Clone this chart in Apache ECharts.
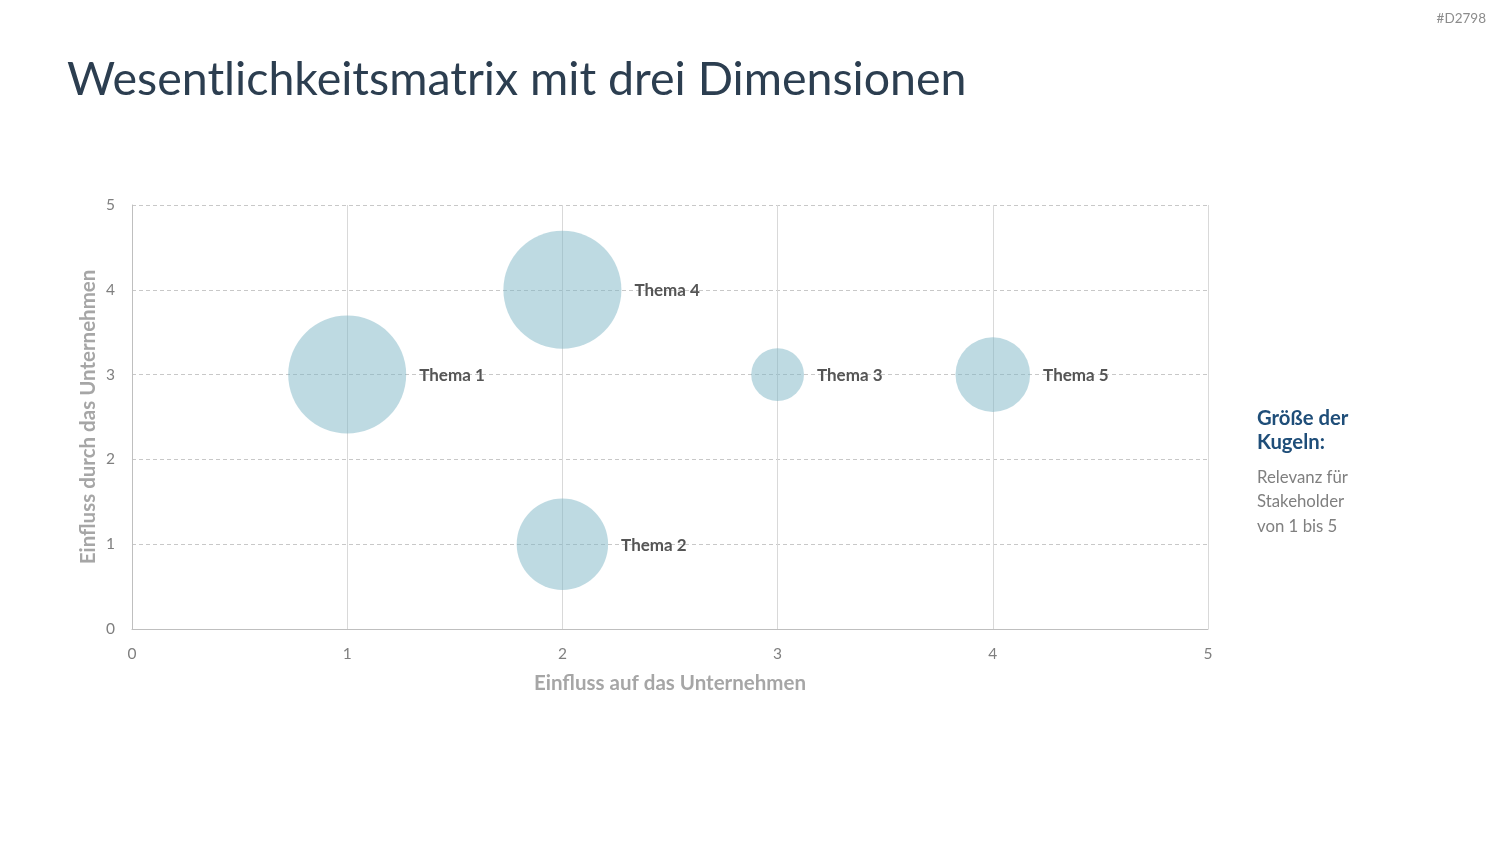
<!DOCTYPE html>
<html><head><meta charset="utf-8">
<script src="https://cdn.jsdelivr.net/npm/echarts@6/dist/echarts.min.js"></script>
<style>html,body{margin:0;padding:0;background:#fff;}#c{width:1500px;height:844px;}</style>
</head><body><div id="c"></div>
<script>
const topics = ['Thema 1','Thema 2','Thema 3','Thema 4','Thema 5'];
const influenceOnCompany = [1, 2, 3, 2, 4];
const influenceByCompany = [3, 1, 3, 4, 3];
const relevance = [5, 3, 1, 5, 2];
const axisTicks = [0, 1, 2, 3, 4, 5];

const maxDiameter = 118;
const data = topics.map((t, i) => ({ name: t, value: [influenceOnCompany[i], influenceByCompany[i], relevance[i]] }));

const chart = echarts.init(document.getElementById('c'));
const FONT = 'Lato, "Open Sans", sans-serif';
chart.setOption({
  backgroundColor: '#ffffff',
  animation: false,
  title: {
    text: 'Wesentlichkeitsmatrix mit drei Dimensionen',
    left: 62, top: 51,
    textStyle: { fontFamily: FONT, fontWeight: 'normal', fontSize: 46.5, color: '#2c3e50' }
  },
  graphic: [
    { type: 'text', right: 14, top: 12, style: { text: '#D2798', fontFamily: FONT, fontSize: 13.5, fill: '#8c8c8c' } },
    { type: 'text', left: 1257, top: 406, style: { text: 'Größe der\nKugeln:', fontFamily: FONT, fontWeight: 'bold', fontSize: 20.3, lineHeight: 24, fill: '#1f4e79' } },
    { type: 'text', left: 1257, top: 465, style: { text: 'Relevanz für\nStakeholder\nvon 1 bis 5', fontFamily: FONT, fontSize: 16.8, lineHeight: 24.5, fill: '#7f7f7f' } }
  ],
  grid: { left: 132, right: 292, top: 205, bottom: 215 },
  xAxis: {
    type: 'value', min: 0, max: 5, interval: 1,
    name: 'Einfluss auf das Unternehmen', nameLocation: 'middle', nameGap: 44,
    nameTextStyle: { fontFamily: FONT, fontWeight: 'bold', fontSize: 20.5, color: '#a6a6a6' },
    axisLine: { show: true, lineStyle: { color: '#bfbfbf', width: 1 } },
    axisTick: { show: false },
    axisLabel: { fontFamily: FONT, fontSize: 15.5, color: '#7f7f7f', margin: 17, formatter: v => axisTicks.includes(v) ? String(v) : '' },
    splitLine: { show: true, lineStyle: { color: '#d9d9d9', width: 1, type: 'solid' } }
  },
  yAxis: {
    type: 'value', min: 0, max: 5, interval: 1,
    name: 'Einfluss durch das Unternehmen', nameLocation: 'middle', nameGap: 33, nameMoveOverlap: false,
    nameTextStyle: { fontFamily: FONT, fontWeight: 'bold', fontSize: 20.5, color: '#a6a6a6' },
    axisLine: { show: true, lineStyle: { color: '#bfbfbf', width: 1 } },
    axisTick: { show: false },
    axisLabel: { fontFamily: FONT, fontSize: 15.5, color: '#7f7f7f', margin: 17, formatter: v => axisTicks.includes(v) ? String(v) : '' },
    splitLine: { show: true, lineStyle: { color: '#c8c8c8', width: 1, type: [4, 3] } }
  },
  series: [{
    type: 'scatter',
    data: data,
    symbolSize: v => maxDiameter * Math.sqrt(v[2] / 5),
    itemStyle: { color: 'rgba(126,181,197,0.5)', opacity: 1 },
    label: {
      show: true, position: 'right', distance: 13, offset: [0, 1],
      formatter: p => p.name,
      fontFamily: FONT, fontWeight: 'bold', fontSize: 17, color: '#555555'
    },
    emphasis: { disabled: true }
  }]
});
</script></body></html>
